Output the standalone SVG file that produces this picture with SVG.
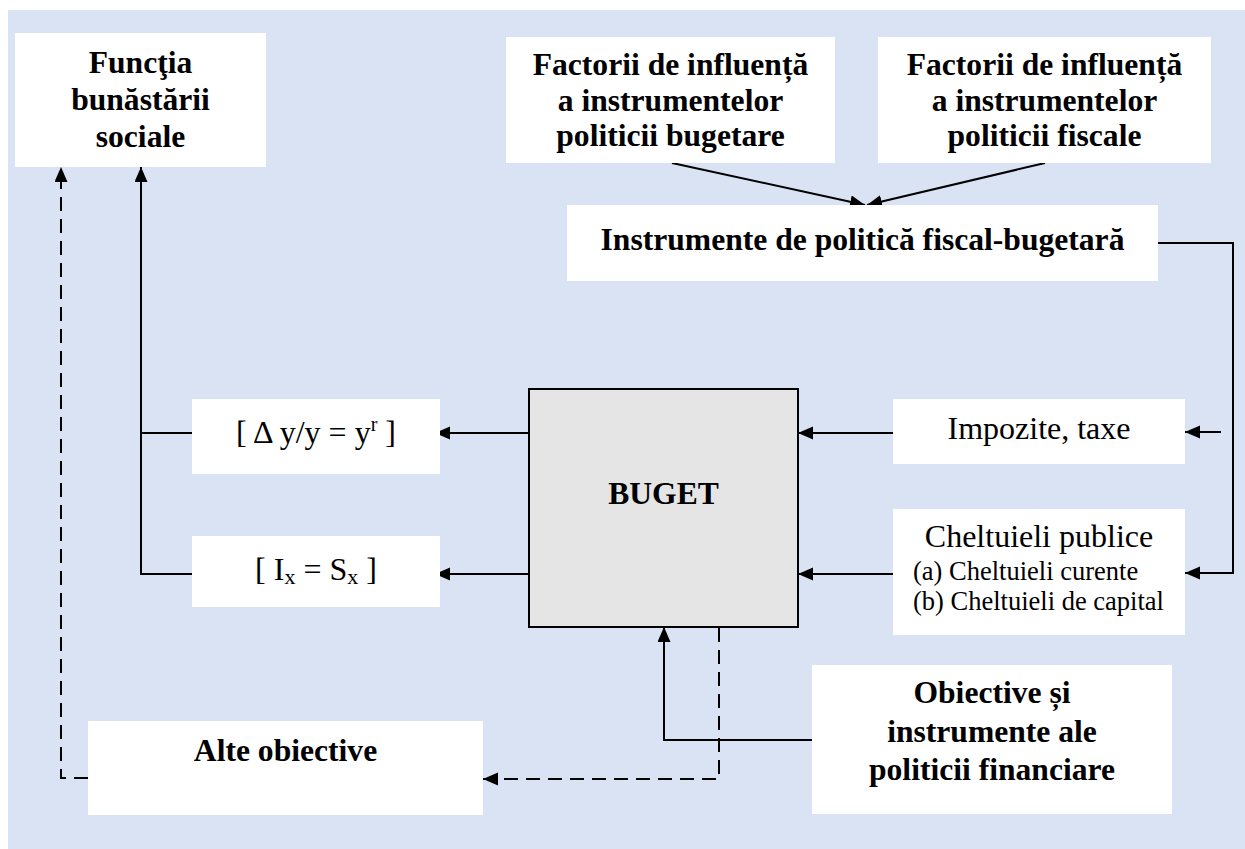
<svg xmlns="http://www.w3.org/2000/svg" width="1245" height="849" viewBox="0 0 1245 849">
  <defs>
    <marker id="arrow" markerUnits="userSpaceOnUse" markerWidth="16" markerHeight="14" refX="15" refY="6.5" orient="auto">
      <path d="M0,0 L15,6.5 L0,13 z" fill="#000"/>
    </marker>
    <style>
      .box { fill: #ffffff; }
      .budget { fill: #e5e5e5; stroke: #000; stroke-width: 2; }
      .b { font-family: "Liberation Serif", "Times New Roman", serif; font-weight: bold; font-size: 31.6px; fill: #000; text-anchor: middle; }
      .r { font-family: "Liberation Serif", "Times New Roman", serif; font-size: 32px; fill: #000; text-anchor: middle; }
      .s { font-family: "Liberation Serif", "Times New Roman", serif; font-size: 26.5px; fill: #000; }
      .ln { fill: none; stroke: #000; stroke-width: 2; }
      .dash { fill: none; stroke: #000; stroke-width: 2; stroke-dasharray: 14 8; }
    </style>
  </defs>

  <!-- backdrop -->
  <rect x="0" y="0" width="1245" height="849" fill="#ffffff"/>
  <rect x="8" y="10" width="1237" height="839" fill="#dae3f3"/>

  <!-- connectors -->
  <g id="connectors">
    <!-- influence factors into instruments -->
    <line class="ln" x1="672" y1="163" x2="865" y2="205" marker-end="url(#arrow)"/>
    <line class="ln" x1="1045" y1="163" x2="867" y2="205" marker-end="url(#arrow)"/>
    <!-- instruments down the right side into expenditures -->
    <polyline class="ln" points="1158,243 1233,243 1233,573 1185,573" marker-end="url(#arrow)"/>
    <line class="ln" x1="1221" y1="432" x2="1185" y2="432" marker-end="url(#arrow)"/>
    <!-- taxes and expenditures into budget -->
    <line class="ln" x1="893" y1="433" x2="798" y2="433" marker-end="url(#arrow)"/>
    <line class="ln" x1="893" y1="574" x2="798" y2="574" marker-end="url(#arrow)"/>
    <!-- budget outputs -->
    <line class="ln" x1="529" y1="433" x2="435" y2="433" marker-end="url(#arrow)"/>
    <line class="ln" x1="529" y1="574" x2="435" y2="574" marker-end="url(#arrow)"/>
    <!-- outputs up to social welfare -->
    <polyline class="ln" points="192,574 141,574 141,167" marker-end="url(#arrow)"/>
    <line class="ln" x1="141" y1="433" x2="192" y2="433"/>
    <!-- financial policy into budget -->
    <polyline class="ln" points="812,740 664,740 664,627" marker-end="url(#arrow)"/>
    <!-- dashed: budget to other objectives to welfare -->
    <polyline class="dash" points="719,628 719,779 483,779" marker-end="url(#arrow)"/>
    <polyline class="dash" points="88,778 61,778 61,167" marker-end="url(#arrow)"/>
  </g>

  <g id="welfare">
    <rect class="box" x="15" y="33" width="251" height="134"/>
    <text class="b" x="140.5" y="73">Funcţia</text>
    <text class="b" x="140.5" y="110">bunăstării</text>
    <text class="b" x="140.5" y="147">sociale</text>
  </g>

  <g id="factors-budget">
    <rect class="box" x="506" y="37" width="329" height="126"/>
    <text class="b" x="670.5" y="75">Factorii de influență</text>
    <text class="b" x="670.5" y="110.5">a instrumentelor</text>
    <text class="b" x="670.5" y="146">politicii bugetare</text>
  </g>

  <g id="factors-fiscal">
    <rect class="box" x="878" y="37" width="333" height="126"/>
    <text class="b" x="1044.5" y="75">Factorii de influență</text>
    <text class="b" x="1044.5" y="110.5">a instrumentelor</text>
    <text class="b" x="1044.5" y="146">politicii fiscale</text>
  </g>

  <g id="instruments">
    <rect class="box" x="567" y="205" width="591" height="76"/>
    <text class="b" x="862.5" y="250">Instrumente de politică fiscal-bugetară</text>
  </g>

  <g id="growth">
    <rect class="box" x="192" y="399" width="248" height="75"/>
    <text class="r" x="316" y="443">[ Δ y/y = y<tspan font-size="20" dy="-12">r</tspan><tspan dy="12"> ]</tspan></text>
  </g>

  <g id="balance">
    <rect class="box" x="192" y="536" width="248" height="71"/>
    <text class="r" x="316" y="580">[ I<tspan font-size="22" dy="4">x</tspan><tspan dy="-4"> = S</tspan><tspan font-size="22" dy="4">x</tspan><tspan dy="-4"> ]</tspan></text>
  </g>

  <g id="budget">
    <rect class="budget" x="529" y="389" width="269" height="238"/>
    <text class="b" x="663.5" y="504">BUGET</text>
  </g>

  <g id="taxes">
    <rect class="box" x="893" y="399" width="292" height="65"/>
    <text class="r" x="1039" y="439">Impozite, taxe</text>
  </g>

  <g id="expenditures">
    <rect class="box" x="893" y="509" width="292" height="126"/>
    <text class="r" x="1039" y="547">Cheltuieli publice</text>
    <text class="s" x="913" y="580">(a) Cheltuieli curente</text>
    <text class="s" x="913" y="610">(b) Cheltuieli de capital</text>
  </g>

  <g id="financial-policy">
    <rect class="box" x="812" y="665" width="360" height="149"/>
    <text class="b" x="992" y="703">Obiective și</text>
    <text class="b" x="992" y="742">instrumente ale</text>
    <text class="b" x="992" y="780">politicii financiare</text>
  </g>

  <g id="other-objectives">
    <rect class="box" x="88" y="721" width="395" height="94"/>
    <text class="b" x="285.5" y="761">Alte obiective</text>
  </g>
</svg>
